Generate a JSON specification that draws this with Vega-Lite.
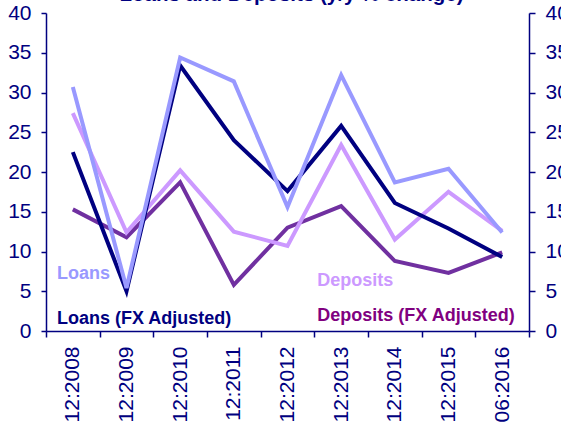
{
  "$schema": "https://vega.github.io/schema/vega-lite/v6.json",
  "autosize": "none",
  "width": 483,
  "height": 318,
  "padding": {"left": 46, "top": 13, "right": 32, "bottom": 91},
  "background": "white",
  "config": {
    "view": {"stroke": null},
    "font": "Liberation Sans",
    "axis": {"grid": false, "domainColor": "#000080", "tickColor": "#000080", "labelColor": "#000080", "domainWidth": 1.5, "tickWidth": 1.5, "labelFont": "Liberation Sans", "labelFontSize": 21, "title": null}
  },
  "title": {"text": "Loans and Deposits (y/y % change)", "color": "#000080", "fontSize": 20.5, "fontWeight": "bold", "font": "Liberation Sans", "anchor": "middle", "frame": "group", "offset": 0, "dy": 3, "dx": 4},
  "datasets": {
    "series": [
      {"date": "12:2008", "series": "Deposits (FX Adjusted)", "value": 15.3},
      {"date": "12:2009", "series": "Deposits (FX Adjusted)", "value": 11.8},
      {"date": "12:2010", "series": "Deposits (FX Adjusted)", "value": 18.7},
      {"date": "12:2011", "series": "Deposits (FX Adjusted)", "value": 5.8},
      {"date": "12:2012", "series": "Deposits (FX Adjusted)", "value": 13.0},
      {"date": "12:2013", "series": "Deposits (FX Adjusted)", "value": 15.7},
      {"date": "12:2014", "series": "Deposits (FX Adjusted)", "value": 8.8},
      {"date": "12:2015", "series": "Deposits (FX Adjusted)", "value": 7.3},
      {"date": "06:2016", "series": "Deposits (FX Adjusted)", "value": 9.9},
      {"date": "12:2008", "series": "Deposits", "value": 27.4},
      {"date": "12:2009", "series": "Deposits", "value": 12.4},
      {"date": "12:2010", "series": "Deposits", "value": 20.2},
      {"date": "12:2011", "series": "Deposits", "value": 12.5},
      {"date": "12:2012", "series": "Deposits", "value": 10.7},
      {"date": "12:2013", "series": "Deposits", "value": 23.4},
      {"date": "12:2014", "series": "Deposits", "value": 11.5},
      {"date": "12:2015", "series": "Deposits", "value": 17.5},
      {"date": "06:2016", "series": "Deposits", "value": 12.6},
      {"date": "12:2008", "series": "Loans (FX Adjusted)", "value": 22.5},
      {"date": "12:2009", "series": "Loans (FX Adjusted)", "value": 5.0},
      {"date": "12:2010", "series": "Loans (FX Adjusted)", "value": 33.4},
      {"date": "12:2011", "series": "Loans (FX Adjusted)", "value": 24.0},
      {"date": "12:2012", "series": "Loans (FX Adjusted)", "value": 17.6},
      {"date": "12:2013", "series": "Loans (FX Adjusted)", "value": 25.8},
      {"date": "12:2014", "series": "Loans (FX Adjusted)", "value": 16.1},
      {"date": "12:2015", "series": "Loans (FX Adjusted)", "value": 12.9},
      {"date": "06:2016", "series": "Loans (FX Adjusted)", "value": 9.3},
      {"date": "12:2008", "series": "Loans", "value": 30.7},
      {"date": "12:2009", "series": "Loans", "value": 5.4},
      {"date": "12:2010", "series": "Loans", "value": 34.4},
      {"date": "12:2011", "series": "Loans", "value": 31.4},
      {"date": "12:2012", "series": "Loans", "value": 15.6},
      {"date": "12:2013", "series": "Loans", "value": 32.2},
      {"date": "12:2014", "series": "Loans", "value": 18.7},
      {"date": "12:2015", "series": "Loans", "value": 20.4},
      {"date": "06:2016", "series": "Loans", "value": 12.4}
    ],
    "labels": [
      {"series": "Loans", "date": "12:2008", "value": 6.5, "shift": 11},
      {"series": "Loans (FX Adjusted)", "date": "12:2008", "value": 0.9, "shift": 11},
      {"series": "Deposits", "date": "12:2013", "value": 5.6, "shift": 3},
      {"series": "Deposits (FX Adjusted)", "date": "12:2013", "value": 1.3, "shift": 3}
    ]
  },
  "layer": [
    {
      "data": {"name": "series"},
      "mark": {"type": "line", "strokeWidth": 4, "strokeJoin": "miter"},
      "encoding": {
        "x": {"field": "date", "type": "ordinal", "sort": null, "bandPosition": 0.5,
              "scale": {"type": "band", "paddingInner": 0, "paddingOuter": 0},
              "axis": {"tickBand": "extent", "labelAngle": -90, "tickSize": 6, "labelPadding": 9, "domainWidth": 1.5}},
        "y": {"field": "value", "type": "quantitative",
              "scale": {"domain": [0, 40], "nice": false, "zero": true},
              "axis": {"orient": "left", "values": [0, 5, 10, 15, 20, 25, 30, 35, 40], "tickSize": 5, "labelPadding": 10}},
        "color": {"field": "series", "type": "nominal",
                  "scale": {"domain": ["Deposits (FX Adjusted)", "Deposits", "Loans (FX Adjusted)", "Loans"], "range": ["#7030A0", "#CC99FF", "#000080", "#9999FF"]},
                  "legend": null},
        "order": {"value": null}
      }
    },
    {
      "data": {"name": "series"},
      "mark": {"type": "line", "opacity": 0},
      "encoding": {
        "x": {"field": "date", "type": "ordinal", "sort": null, "bandPosition": 0.5},
        "y": {"field": "value", "type": "quantitative",
              "axis": {"orient": "right", "values": [0, 5, 10, 15, 20, 25, 30, 35, 40], "tickSize": 6, "labelPadding": 10}},
        "detail": {"field": "series"},
        "order": {"value": null}
      }
    },
    {
      "data": {"name": "labels"},
      "mark": {"type": "text", "align": "left", "baseline": "alphabetic", "fontSize": 18, "fontWeight": "bold", "font": "Liberation Sans"},
      "encoding": {
        "x": {"field": "date", "type": "ordinal", "sort": null, "bandPosition": 0},
        "xOffset": {"field": "shift", "type": "quantitative", "scale": null},
        "y": {"field": "value", "type": "quantitative", "axis": null},
        "text": {"field": "series"},
        "color": {"field": "series", "type": "nominal",
                  "scale": {"domain": ["Deposits (FX Adjusted)", "Deposits", "Loans (FX Adjusted)", "Loans"], "range": ["#800080", "#CC99FF", "#000080", "#9999FF"]},
                  "legend": null}
      }
    }
  ],
  "resolve": {"axis": {"y": "independent"}, "scale": {"color": "independent"}}
}
